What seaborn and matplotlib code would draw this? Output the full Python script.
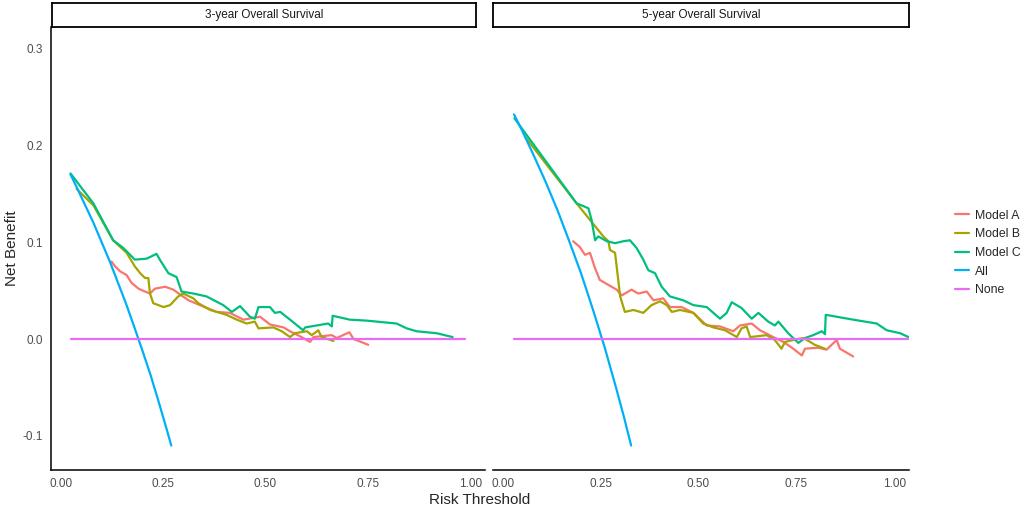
import matplotlib
matplotlib.use("Agg")
import matplotlib.pyplot as plt
import pandas as pd
import seaborn as sns

# ---------------- 3-year Overall Survival ----------------
a3_t = [0.124, 0.133, 0.145, 0.161, 0.173, 0.190, 0.206, 0.218, 0.230, 0.255, 0.275, 0.295,
        0.312, 0.340, 0.381, 0.413, 0.446, 0.487, 0.511, 0.544, 0.560, 0.588, 0.609, 0.617,
        0.662, 0.674, 0.705, 0.715, 0.751]
a3_nb = [0.080, 0.075, 0.070, 0.066, 0.058, 0.052, 0.049, 0.047, 0.052, 0.054, 0.051, 0.045,
         0.040, 0.035, 0.028, 0.027, 0.020, 0.023, 0.015, 0.012, 0.008, 0.002, -0.003, 0.002,
         0.004, 0.001, 0.007, 0.000, -0.006]

b3_t = [0.039, 0.080, 0.128, 0.161, 0.181, 0.194, 0.206, 0.214, 0.218, 0.226, 0.251, 0.267,
        0.287, 0.299, 0.324, 0.336, 0.365, 0.405, 0.430, 0.454, 0.474, 0.483, 0.519, 0.540,
        0.560, 0.572, 0.601, 0.613, 0.629, 0.637, 0.666]
b3_nb = [0.155, 0.138, 0.102, 0.089, 0.075, 0.068, 0.063, 0.063, 0.047, 0.037, 0.033, 0.035,
         0.044, 0.047, 0.042, 0.037, 0.030, 0.025, 0.020, 0.016, 0.018, 0.011, 0.012, 0.008,
         0.002, 0.006, 0.008, 0.004, 0.009, 0.002, -0.002]

c3_t = [0.024, 0.080, 0.128, 0.153, 0.181, 0.210, 0.234, 0.242, 0.263, 0.283, 0.295, 0.324,
        0.356, 0.397, 0.418, 0.438, 0.462, 0.474, 0.483, 0.511, 0.523, 0.536, 0.560, 0.592,
        0.597, 0.653, 0.662, 0.664, 0.706, 0.747, 0.820, 0.845, 0.869, 0.918, 0.957]
c3_nb = [0.171, 0.140, 0.102, 0.094, 0.082, 0.083, 0.088, 0.082, 0.068, 0.064, 0.049, 0.047,
         0.044, 0.035, 0.028, 0.034, 0.023, 0.021, 0.033, 0.033, 0.027, 0.028, 0.020, 0.009,
         0.012, 0.016, 0.013, 0.024, 0.020, 0.019, 0.016, 0.011, 0.008, 0.006, 0.002]

all3_t = [0.024, 0.04, 0.06, 0.08, 0.10, 0.12, 0.14, 0.16, 0.18, 0.20, 0.22, 0.24, 0.26, 0.27]
all3_nb = [0.170, 0.156, 0.138, 0.120, 0.100, 0.080, 0.058, 0.036, 0.012, -0.0125, -0.038,
           -0.066, -0.095, -0.110]

none3_t = [0.024, 0.987]
none3_nb = [0.0, 0.0]

# ---------------- 5-year Overall Survival ----------------
a5_t = [0.180, 0.197, 0.210, 0.223, 0.236, 0.248, 0.261, 0.278, 0.291, 0.304, 0.329, 0.346,
        0.368, 0.385, 0.410, 0.427, 0.457, 0.487, 0.521, 0.555, 0.589, 0.606, 0.636, 0.657,
        0.691, 0.717, 0.742, 0.764, 0.772, 0.806, 0.827, 0.853, 0.861, 0.895]
a5_nb = [0.101, 0.095, 0.087, 0.089, 0.073, 0.061, 0.058, 0.054, 0.051, 0.045, 0.051, 0.047,
         0.049, 0.040, 0.042, 0.033, 0.033, 0.027, 0.014, 0.013, 0.008, 0.014, 0.016, 0.009,
         0.002, -0.003, -0.010, -0.017, -0.010, -0.009, -0.011, -0.001, -0.010, -0.018]

b5_t = [0.057, 0.189, 0.257, 0.270, 0.274, 0.287, 0.300, 0.312, 0.334, 0.359, 0.380, 0.402,
        0.419, 0.432, 0.453, 0.487, 0.512, 0.538, 0.568, 0.598, 0.610, 0.623, 0.632, 0.674,
        0.695, 0.712, 0.721, 0.742, 0.768, 0.785, 0.797, 0.823]
b5_nb = [0.209, 0.140, 0.106, 0.101, 0.092, 0.089, 0.044, 0.028, 0.030, 0.027, 0.035, 0.039,
         0.035, 0.028, 0.030, 0.027, 0.016, 0.012, 0.009, 0.002, 0.011, 0.013, 0.002, 0.004,
         -0.001, -0.010, -0.003, -0.001, 0.001, -0.003, -0.006, -0.010]

c5_t = [0.030, 0.189, 0.202, 0.219, 0.227, 0.236, 0.244, 0.266, 0.287, 0.308, 0.325, 0.342,
        0.359, 0.372, 0.389, 0.406, 0.427, 0.461, 0.487, 0.521, 0.555, 0.572, 0.585, 0.610,
        0.636, 0.653, 0.678, 0.695, 0.704, 0.729, 0.755, 0.772, 0.793, 0.815, 0.823, 0.825,
        0.895, 0.955, 0.981, 1.015, 1.036]
c5_nb = [0.228, 0.140, 0.138, 0.135, 0.123, 0.102, 0.106, 0.101, 0.099, 0.101, 0.102, 0.094,
         0.082, 0.071, 0.068, 0.054, 0.044, 0.040, 0.035, 0.033, 0.021, 0.027, 0.038, 0.032,
         0.021, 0.027, 0.018, 0.014, 0.018, 0.006, -0.004, 0.001, 0.004, 0.008, 0.005, 0.025,
         0.020, 0.016, 0.009, 0.006, 0.002]

all5_t = [0.029, 0.05, 0.08, 0.11, 0.14, 0.17, 0.20, 0.23, 0.26, 0.29, 0.31, 0.328]
all5_nb = [0.232, 0.215, 0.189, 0.162, 0.133, 0.101, 0.068, 0.031, -0.008, -0.051, -0.081, -0.110]

none5_t = [0.029, 1.035]
none5_nb = [0.0, 0.0]

models = ["Model A", "Model B", "Model C", "All", "None"]
colors = ["#F8766D", "#A3A500", "#00BF7D", "#00B0F6", "#E76BF3"]
panels = ["3-year Overall Survival", "5-year Overall Survival"]

series = {
    panels[0]: [(a3_t, a3_nb), (b3_t, b3_nb), (c3_t, c3_nb), (all3_t, all3_nb), (none3_t, none3_nb)],
    panels[1]: [(a5_t, a5_nb), (b5_t, b5_nb), (c5_t, c5_nb), (all5_t, all5_nb), (none5_t, none5_nb)],
}

rows = []
for panel, lst in series.items():
    for name, (t, nb) in zip(models, lst):
        for x, y in zip(t, nb):
            rows.append({"panel": panel, "model": name, "threshold": x, "net_benefit": y})
df = pd.DataFrame(rows)

sns.set_style("white")
plt.rcParams["font.family"] = ["Liberation Sans", "DejaVu Sans"]

W, H = 1026, 509
fig = plt.figure(figsize=(W / 100, H / 100), dpi=100)

def fx(px):
    return px / W

def fy(py):
    return 1 - py / H

# panel boxes in pixels: (left, right), x limits, strip (left, right)
boxes = [((50.7, 485.0), (-0.0244, 1.036), (51.7, 475.7)),
         ((492.7, 909.0), (-0.0255, 1.0376), (493.3, 909.0))]
top_px, bot_px = 27.0, 470.0
ylim = (-0.1353, 0.3223)

axes = []
for i, (panel, (xr, xl, sr)) in enumerate(zip(panels, boxes)):
    ax = fig.add_axes([fx(xr[0]), fy(bot_px), fx(xr[1] - xr[0]), (bot_px - top_px) / H])
    sub = df[df["panel"] == panel]
    sns.lineplot(data=sub, x="threshold", y="net_benefit", hue="model", hue_order=models,
                 palette=colors, sort=False, estimator=None, linewidth=1.6, ax=ax)
    ax.set_xlim(*xl)
    ax.set_ylim(*ylim)
    ax.set_xticks([0, 0.25, 0.5, 0.75, 1.0])
    ax.set_xticklabels(["0.00", "0.25", "0.50", "0.75", "1.00"])
    ax.set_xlabel("")
    ax.set_ylabel("")
    for s in ["top", "right"]:
        ax.spines[s].set_visible(False)
    ax.spines["bottom"].set_color("black")
    ax.spines["bottom"].set_linewidth(1.1)
    ax.tick_params(axis="both", direction="out", length=3.5, width=0.9, color="#333333",
                   labelsize=8.5, labelcolor="#4D4D4D", pad=2)
    if i == 0:
        ax.spines["left"].set_color("black")
        ax.spines["left"].set_linewidth(1.1)
        ax.set_yticks([-0.1, 0.0, 0.1, 0.2, 0.3])
        ax.set_yticklabels(["-0.1", "0.0", "0.1", "0.2", "0.3"])
    else:
        ax.spines["left"].set_visible(False)
        ax.set_yticks([])
    axes.append(ax)

    # facet strip
    sax = fig.add_axes([fx(sr[0]), fy(26.7), fx(sr[1] - sr[0]), 24.0 / H])
    sax.set_xticks([])
    sax.set_yticks([])
    for s in sax.spines.values():
        s.set_color("black")
        s.set_linewidth(1.3)
    sax.text(0.5, 0.5, panel, ha="center", va="center", fontsize=8.5, color="#1A1A1A",
             transform=sax.transAxes)

leg = axes[0].get_legend()
handles = leg.legend_handles
labels = [t.get_text() for t in leg.get_texts()]
for ax in axes:
    if ax.get_legend() is not None:
        ax.get_legend().remove()

fig.legend(handles, labels, loc="center left", bbox_to_anchor=(fx(951), fy(253)),
           frameon=False, fontsize=8.8, handlelength=1.2, handletextpad=0.45,
           labelspacing=0.55, borderpad=0.3, borderaxespad=0.0)

fig.text(fx(480), fy(500), "Risk Threshold", ha="center", va="center", fontsize=11)
fig.text(fx(12), fy(248), "Net Benefit", ha="center", va="center", rotation=90, fontsize=11)

fig.savefig("out.png", dpi=100)
